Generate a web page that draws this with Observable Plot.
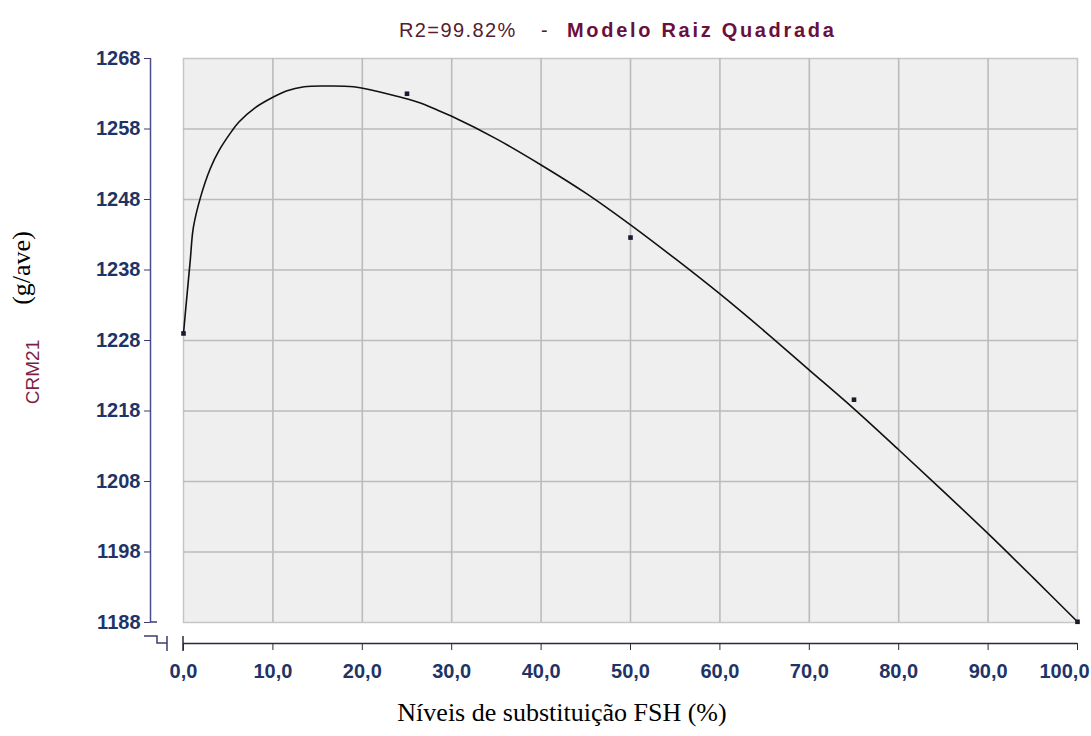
<!DOCTYPE html>
<html><head><meta charset="utf-8">
<script src="https://cdn.jsdelivr.net/npm/d3@7"></script>
<script src="https://cdn.jsdelivr.net/npm/@observablehq/plot@0.6"></script>
<style>
body{margin:0;background:#fff;}
#wrap{position:relative;width:1091px;height:736px;overflow:hidden;background:#fff;}
#wrap svg{position:absolute;left:0;top:0;}
.t{position:absolute;white-space:nowrap;line-height:1;}
</style></head><body><div id="wrap"></div>
<script>
// observed means
const obsX = [0, 25, 50, 75, 100];
const obsY = [1229.0, 1263.0, 1242.6, 1219.6, 1188.1];
// fitted square-root model curve
const curveX = [0, 0.25, 0.75, 1.1, 1.9, 3, 4, 5.4, 6.2, 8, 10, 11.5, 13.5, 16, 19, 21.5, 24, 26.5, 28, 30, 35, 40, 45, 50, 55, 60, 65, 70, 75, 80, 85, 90, 95, 100];
const curveY = [1229.0, 1232.5, 1239.3, 1244.0, 1248.3, 1252.4, 1255.0, 1257.7, 1259.0, 1261.0, 1262.5, 1263.4, 1264.0, 1264.1, 1264.0, 1263.4, 1262.6, 1261.7, 1260.9, 1259.8, 1256.6, 1252.9, 1248.9, 1244.4, 1239.6, 1234.6, 1229.3, 1223.8, 1218.3, 1212.5, 1206.6, 1200.6, 1194.4, 1188.1];
const xTicks = [0, 10, 20, 30, 40, 50, 60, 70, 80, 90, 100];
const yTicks = [1188, 1198, 1208, 1218, 1228, 1238, 1248, 1258, 1268];
const titleA = "R2=99.82%";
const titleSep = "-";
const titleB = "Modelo Raiz Quadrada";
const yLabelA = "CRM21";
const yLabelB = "(g/ave)";
const xLabel = "Níveis de substituição FSH (%)";

const obs = obsX.map((x, i) => ({x, y: obsY[i]}));
const curve = curveX.map((x, i) => ({x, y: curveY[i]}));
const navy = "#1f3466";
const fmtX = d => d.toFixed(1).replace(".", ",");

const breakMark = (index, scales) => {
  const x0 = scales.x(0), y0 = scales.y(1188);
  const g = d3.create("svg:g").attr("fill", "none").attr("stroke-width", 1.5);
  g.append("path").attr("stroke", "#3b3b70")
    .attr("d", `M${x0-33},${y0}H${x0-26}M${x0-39},${y0+14}H${x0-26}V${y0+21}H${x0-16}M${x0-16},${y0+14}V${y0+29}`);
  g.append("path").attr("stroke", "#2a2a3a")
    .attr("d", `M${x0},${y0+14}V${y0+29}`);
  return g.node();
};

const axisText = {anchor: "bottom", dy: 21, tickSize: 0, tickPadding: 20, tickFormat: fmtX, fontSize: 20, fontWeight: "bold", fill: navy, label: null};

const chart = Plot.plot({
  width: 1091, height: 736,
  marginTop: 58, marginBottom: 114, marginLeft: 183, marginRight: 14,
  x: {domain: [0, 100]},
  y: {domain: [1188, 1268]},
  style: {background: "transparent", overflow: "visible", fontFamily: "'Liberation Sans', Arial, sans-serif"},
  marks: [
    Plot.frame({fill: "#efefef", stroke: "#c6c6c6", strokeWidth: 1.5}),
    Plot.ruleX(xTicks.slice(1, -1), {stroke: "#bbbbbb", strokeWidth: 1.6}),
    Plot.ruleY(yTicks.slice(1, -1), {stroke: "#bbbbbb", strokeWidth: 1.6}),
    Plot.ruleX([0], {y1: 1188, y2: 1268, dx: -33, stroke: "#4b4b8c", strokeWidth: 1.5}),
    Plot.axisY(yTicks, {anchor: "left", dx: -33, tickSize: 6, tickPadding: 4, tickFormat: d => String(d), fontSize: 20, fontWeight: "bold", fill: navy, stroke: "#3b3b70", label: null}),
    Plot.ruleY([1188], {x1: 0, x2: 100, dy: 21, stroke: "#2a2a3a", strokeWidth: 1.5}),
    Plot.axisX(xTicks, {anchor: "bottom", dy: 21, tickSize: 7, tickFormat: () => "", stroke: "#2a2a3a", label: null}),
    Plot.axisX(xTicks.slice(0, -1), axisText),
    Plot.axisX(xTicks.slice(-1), {...axisText, dx: -13}),
    breakMark,
    Plot.line(curve, {x: "x", y: "y", curve: "catmull-rom", stroke: "#111", strokeWidth: 1.6}),
    Plot.dot(obs, {x: "x", y: "y", symbol: "square", r: 2.6, fill: "#1a1a2e", stroke: "none"})
  ]
});
const wrap = document.getElementById("wrap");
wrap.appendChild(chart);

function addText(txt, css) {
  const d = document.createElement("div");
  d.className = "t";
  d.textContent = txt;
  Object.assign(d.style, css);
  wrap.appendChild(d);
  return d;
}
addText(titleA, {left: "399px", top: "20px", fontFamily: "'Liberation Sans', Arial, sans-serif", fontSize: "20px", letterSpacing: "1.4px", color: "#52202f"});
addText(titleSep, {left: "541px", top: "20px", fontFamily: "'Liberation Sans', Arial, sans-serif", fontSize: "20px", color: "#52202f"});
addText(titleB, {left: "567px", top: "20px", fontFamily: "'Liberation Sans', Arial, sans-serif", fontSize: "20px", fontWeight: "bold", letterSpacing: "2.7px", color: "#6b0f3c"});
addText(yLabelA, {left: "32px", top: "372px", transform: "translate(-50%,-50%) rotate(-90deg)", fontFamily: "'Liberation Sans', Arial, sans-serif", fontSize: "19px", color: "#7d1f47"});
addText(yLabelB, {left: "22px", top: "268px", transform: "translate(-50%,-50%) rotate(-90deg)", fontFamily: "'Liberation Serif', 'Times New Roman', serif", fontSize: "26px", color: "#000"});
addText(xLabel, {left: "562px", top: "700px", transform: "translateX(-50%)", fontFamily: "'Liberation Serif', 'Times New Roman', serif", fontSize: "26px", color: "#000"});
</script>
</body></html>
